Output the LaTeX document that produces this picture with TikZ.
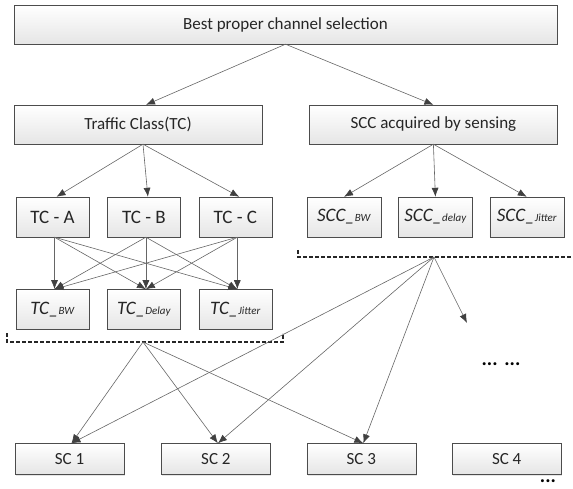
\documentclass[tikz,border=0pt]{standalone}
\usepackage{fontspec}
\setmainfont{Carlito}
\usepackage{tikz}
\usetikzlibrary{arrows.meta, positioning, shadows}

\begin{document}
\begin{tikzpicture}[x=1pt, y=1pt, node distance=18pt]
        % styles
        \tikzstyle{box} = [rectangle, draw=black!70, top color=white, bottom color=black!10, inner sep=0pt, drop shadow={shadow xshift=1pt, shadow yshift=-1pt, fill=black!20}, text=black!85]
        \tikzstyle{wide} = [box, minimum width=543pt, minimum height=39pt, font=\fontsize{17}{20}\selectfont]
        \tikzstyle{mid} = [box, minimum width=248pt, minimum height=39pt, font=\fontsize{17}{20}\selectfont]
        \tikzstyle{small} = [box, minimum width=73pt, minimum height=40pt, font=\fontsize{19}{22}\selectfont]
        \tikzstyle{base} = [box, minimum width=109pt, minimum height=31pt, font=\fontsize{17}{20}\selectfont]
        \tikzstyle{arrow} = [draw=black!60, -{Latex[length=9pt, width=7pt, color=black!75]}, line width=0.6pt]
        \tikzstyle{bracket} = [black!85, line width=1.2pt, dash pattern=on 4pt off 2pt]
        \newcommand{\sub}[1]{\_{\fontsize{11}{12}\selectfont #1}}

        \useasboundingbox (0,0) rectangle (573,488);

        % top levels
        \node (best) [wide] at (285.5,463.5) {Best proper channel selection};
        \node (tc) [mid] at (138,363.5) {Traffic Class(TC)};
        \node (scc) [mid, right=47pt of tc] {SCC acquired by sensing};

        % traffic classes and their parameters
        \node (tca) [small] at (52.5,271) {TC - A};
        \node (tcb) [small, right=of tca] {TC - B};
        \node (tcc) [small, right=of tcb] {TC - C};
        \node (tcbw) [small, below=52pt of tca] {\textit{TC\sub{BW}}};
        \node (tcdelay) [small, right=of tcbw] {\textit{TC\sub{Delay}}};
        \node (tcjitter) [small, right=of tcdelay] {\textit{TC\sub{Jitter}}};

        % sensed channel characteristics
        \node (sccbw) [small, minimum width=74pt] at (344,271) {\textit{SCC\sub{BW}}};
        \node (sccdelay) [small, minimum width=74pt, right=17pt of sccbw] {\textit{SCC\sub{delay}}};
        \node (sccjitter) [small, minimum width=74pt, right=17pt of sccdelay] {\textit{SCC\sub{Jitter}}};

        % candidate channels
        \node (sc1) [base] at (69.5,29) {SC 1};
        \node (sc2) [base, right=37pt of sc1] {SC 2};
        \node (sc3) [base, right=36pt of sc2] {SC 3};
        \node (sc4) [base, right=36pt of sc3] {SC 4};
        \node (more) at (501,124) {\fontsize{20}{20}\selectfont\bfseries ...\,\,...};
        \node (rest) [anchor=base, inner sep=0pt] at (548,5.5) {\fontsize{20}{20}\selectfont\bfseries ...};

        % fan points
        \coordinate (lfan) at (143,146);
        \coordinate (rfan) at (434,231);
        \coordinate (next) at (467,165);

        % arrows
        \draw [arrow] (best.south) -- ([xshift=8pt]tc.north);
        \draw [arrow] (best.south) -- (scc.north);
        \foreach \t in {tca,tcb,tcc}
            \draw [arrow] ([xshift=5pt]tc.south) -- ([xshift=4pt]\t.north);
        \foreach \t in {sccbw,sccdelay,sccjitter}
            \draw [arrow] (scc.south) -- (\t.north);
        \foreach \s in {tca,tcb,tcc}
            \foreach \t in {tcbw,tcdelay,tcjitter}
                \draw [arrow] ([xshift=2pt]\s.south) -- ([xshift=2pt]\t.north);

        % brackets
        \draw [bracket] (7,155) |- (283,146) -- (283,155);
        \draw [bracket] (298,238) |- (573,231);

        \foreach \t in {sc1,sc2,sc3}
            \draw [arrow] (lfan) -- ([xshift=2pt]\t.north);
        \foreach \t in {sc1,sc2,sc3}
            \draw [arrow] (rfan) -- ([xshift=2pt]\t.north);
        \draw [arrow] (rfan) -- (next);

    \end{tikzpicture}
\end{document}
